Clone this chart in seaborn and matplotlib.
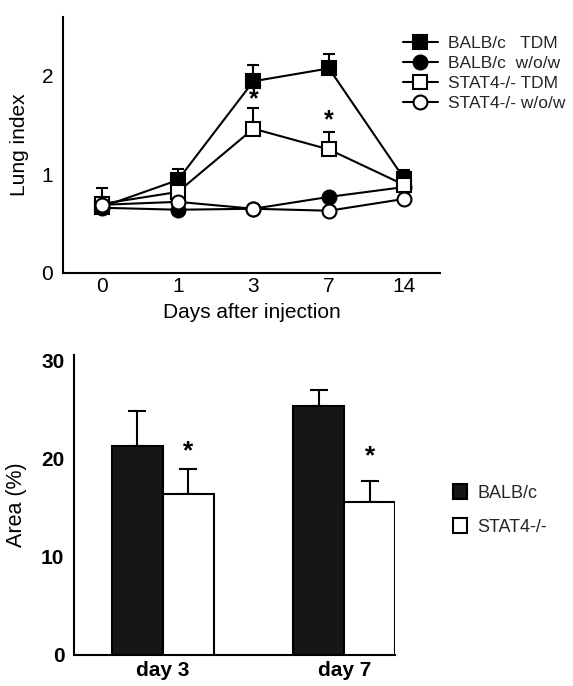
import numpy as np
import pandas as pd
import matplotlib
matplotlib.use("Agg")
import matplotlib.pyplot as plt
import seaborn as sns

# ---------------- data ----------------
days = ["0", "1", "3", "7", "14"]
series_names = ["BALB/c   TDM", "BALB/c  w/o/w", "STAT4-/- TDM", "STAT4-/- w/o/w"]
balb_tdm = [0.67, 0.94, 1.94, 2.07, 0.95]
balb_wow = [0.66, 0.64, 0.65, 0.77, 0.87]
stat4_tdm = [0.70, 0.82, 1.46, 1.25, 0.89]
stat4_wow = [0.69, 0.72, 0.65, 0.63, 0.75]
balb_tdm_err = [0.19, 0.11, 0.16, 0.15, 0.09]
stat4_tdm_err = [0.0, 0.0, 0.21, 0.18, 0.0]
top_star_days = ["3", "7"]
top_star_y = [1.76, 1.54]

bar_days = ["day 3", "day 7"]
strains = ["BALB/c", "STAT4-/-"]
balb_area = [21.3, 25.4]
stat4_area = [16.4, 15.6]
balb_area_err = [3.6, 1.6]
stat4_area_err = [2.6, 2.1]
bar_star_y = [20.8, 20.3]

# ---------------- style ----------------
sns.set_theme(style="white")
plt.rcParams["font.family"] = ["Liberation Sans", "DejaVu Sans"]
plt.rcParams["axes.linewidth"] = 1.5
plt.rcParams["axes.edgecolor"] = "black"

W, H = 573, 686
fig = plt.figure(figsize=(W / 100, H / 100), dpi=100)

# ---------------- top: line chart ----------------
ax1 = fig.add_axes([63 / W, 1 - 273 / H, 377 / W, 256 / H])
pos = np.arange(len(days))
series_vals = [balb_tdm, balb_wow, stat4_tdm, stat4_wow]
series_err = [balb_tdm_err, None, stat4_tdm_err, None]
markers = ["s", "o", "s", "o"]
faces = ["black", "black", "white", "white"]

for i, (name, vals) in enumerate(zip(series_names, series_vals)):
    err = series_err[i]
    if err is not None:
        ax1.errorbar(pos, vals, yerr=[np.zeros(len(vals)), err], fmt="none",
                     ecolor="black", elinewidth=1.5, capsize=4.5, capthick=1.5,
                     zorder=2 + i * 2)
    df = pd.DataFrame({"pos": pos, "val": vals})
    sns.lineplot(data=df, x="pos", y="val", ax=ax1, color="black", lw=1.5,
                 marker=markers[i], markersize=10.5 if markers[i] == "s" else 10,
                 markerfacecolor=faces[i], markeredgecolor="black",
                 markeredgewidth=1.5, label=name, zorder=3 + i * 2)

for d, yv in zip(top_star_days, top_star_y):
    ax1.text(days.index(d), yv, "*", ha="center", va="center", fontsize=18,
             fontweight="bold", color="black")

ax1.set_xlim(-0.52, 4.47)
ax1.set_ylim(0, 2.59)
ax1.set_xticks(pos)
ax1.set_xticklabels(days)
ax1.set_yticks([0, 1, 2])
ax1.set_yticklabels(["0", "1", "2"])
ax1.tick_params(axis="both", length=0, labelsize=15, colors="black")
ax1.tick_params(axis="x", pad=3)
ax1.tick_params(axis="y", pad=7)
ax1.set_xlabel("Days after injection", fontsize=15, labelpad=5, color="black")
ax1.set_ylabel("Lung index", fontsize=15, labelpad=9, color="black")
sns.despine(ax=ax1)
ax1.legend(loc="upper left", bbox_to_anchor=(403 / W, 1 - 36 / H),
           bbox_transform=fig.transFigure, frameon=False, fontsize=12.5,
           handlelength=2.0, handletextpad=0.6, labelspacing=0.28,
           borderpad=0, borderaxespad=0)

# ---------------- bottom: bar chart ----------------
ax2 = fig.add_axes([74 / W, 1 - 655 / H, 321 / W, 300 / H])
bdf = pd.DataFrame({
    "day": bar_days * 2,
    "strain": [strains[0]] * 2 + [strains[1]] * 2,
    "area": balb_area + stat4_area,
})
sns.barplot(data=bdf, x="day", y="area", hue="strain", hue_order=strains,
            order=bar_days, palette={"BALB/c": "#161616", "STAT4-/-": "white"},
            edgecolor="black", linewidth=1.5, width=0.56, gap=0, errorbar=None,
            saturation=1, ax=ax2, zorder=3)

errs = [balb_area_err, stat4_area_err]
for k, (cont, e) in enumerate(zip(ax2.containers, errs)):
    xs = [b.get_x() + b.get_width() / 2 for b in cont]
    hs = [b.get_height() for b in cont]
    ax2.errorbar(xs, hs, yerr=[np.zeros(len(e)), e], fmt="none", ecolor="black",
                 elinewidth=1.5, capsize=6.5, capthick=1.5, zorder=2)
    if k == 1:
        for x, yv in zip(xs, bar_star_y):
            ax2.text(x, yv, "*", ha="center", va="center", fontsize=19,
                     fontweight="bold", color="black")

ax2.set_xlim(-0.49, 1.28)
ax2.set_ylim(0, 30.6)
ax2.set_yticks([0, 10, 20, 30])
ax2.tick_params(axis="both", length=0, labelsize=15, colors="black")
ax2.tick_params(axis="x", pad=4)
ax2.tick_params(axis="y", pad=7)
for lab in ax2.get_xticklabels() + ax2.get_yticklabels():
    lab.set_fontweight("bold")
ax2.set_xlabel("")
ax2.set_ylabel("Area (%)", fontsize=15.5, labelpad=10, color="black")
sns.despine(ax=ax2)
ax2.legend(loc="upper left", bbox_to_anchor=(453 / W, 1 - 484 / H),
           bbox_transform=fig.transFigure, frameon=False, fontsize=13,
           handlelength=0.75, handleheight=0.9, handletextpad=0.6,
           labelspacing=0.9, borderpad=0, borderaxespad=0)

fig.savefig("out.png", dpi=100)
